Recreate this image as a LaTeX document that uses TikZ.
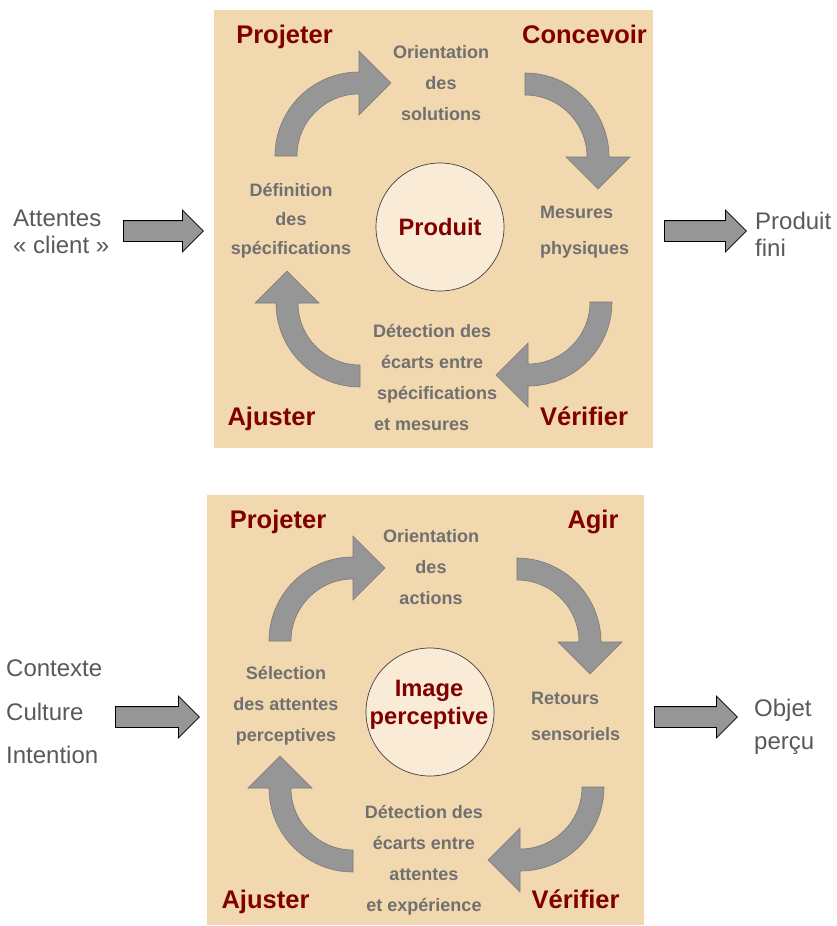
\documentclass[tikz,border=0pt]{standalone}
\usepackage{fontspec}
\setmainfont{Liberation Sans}
\usetikzlibrary{calc,shapes.arrows}
\definecolor{panel}{HTML}{F2D8AE}
\definecolor{disc}{HTML}{FAEBD7}
\definecolor{stagered}{HTML}{800000}
\definecolor{notegray}{HTML}{707070}
\definecolor{outergray}{HTML}{595959}
\definecolor{cycfill}{HTML}{969696}
\definecolor{cycedge}{HTML}{7A7A7A}
\newcommand\cycarrow[3]{%
  \draw[cycshape] ($(#1,#2)+(#3:84)$) arc[start angle=#3, end angle=#3+90, radius=84]
   -- ($(#1,#2)+(#3+90:105)$) -- ($(#1,#2)+(#3+90:73)+(#3+180:32)$)
   -- ($(#1,#2)+(#3+90:41)$) -- ($(#1,#2)+(#3+90:62)$)
   arc[start angle=#3+90, end angle=#3, radius=62] -- cycle;}
\begin{document}
\begin{tikzpicture}[x=1pt,y=-1pt,
  cycshape/.style={fill=cycfill, draw=cycedge, line width=0.6pt, line join=miter},
  stagelabel/.style={text=stagered, font=\bfseries\fontsize{25.5}{30}\selectfont, inner sep=0pt, anchor=base},
  notelabel/.style={text=notegray, font=\bfseries\fontsize{18}{31}\selectfont, align=center, inner sep=0pt},
  notelabelwide/.style={notelabel, font=\bfseries\fontsize{18}{36}\selectfont, align=left, anchor=west},
  outerlabel/.style={text=outergray, font=\fontsize{24}{27}\selectfont, align=left, anchor=west, inner sep=0pt},
  hub/.style={circle, fill=disc, draw=black!75, line width=0.7pt, minimum size=128pt, inner sep=0pt,
    text=stagered, font=\bfseries\fontsize{23.7}{28}\selectfont, align=center},
  blockarrow/.style={single arrow, fill=cycfill, draw=black, line width=0.8pt, inner sep=0pt,
    text height=20pt, text depth=0pt, single arrow head extend=10.5pt, single arrow tip angle=90, anchor=tail}
]
\useasboundingbox (0,0) rectangle (836,926);
% ---------- top panel ----------
\fill[panel] (214,10) rectangle (653,448);
\cycarrow{359}{156}{180}
\cycarrow{525}{157}{-90}
\cycarrow{528}{302}{0}
\cycarrow{360}{303}{90}
\node[hub] (prod) at (440,227) {Produit};
\node[stagelabel] (p1) at (284.5,43.5) {Projeter};
\node[stagelabel] (c1) at (584.5,43.5) {Concevoir};
\node[stagelabel] (a1) at (271.5,425) {Ajuster};
\node[stagelabel] (v1) at (584,425) {Vérifier};
\node[notelabel] (o1) at (441,83) {Orientation\\des\\solutions};
\node[notelabel, font=\bfseries\fontsize{18}{29}\selectfont] (d1) at (291,221) {Définition\\des\\spécifications};
\node[notelabelwide] (m1) at (540,232) {Mesures\\physiques};
\node[notelabel, align=left, anchor=west] (e1) at (373,377) {Détection des\\\hspace*{8pt}écarts entre\\\hspace*{4pt}spécifications\\\hspace*{1pt}et mesures};
\node[outerlabel] (in1) at (13,232) {Attentes\\« client »};
\node[outerlabel] (out1) at (755,234) {Produit\\fini};
\node[blockarrow, minimum height=80pt] (ia1) at (123,231) {};
\node[blockarrow, minimum height=82pt] (oa1) at (664,231) {};
% ---------- bottom panel ----------
\fill[panel] (207,495) rectangle (644,925);
\cycarrow{353}{641}{180}
\cycarrow{517}{642}{-90}
\cycarrow{520}{787}{0}
\cycarrow{353}{788}{90}
\node[hub] (img) at (430,712) {};
\node[text=stagered, font=\bfseries\fontsize{23.7}{28}\selectfont, align=center, inner sep=0pt] (imgtext) at (429,704.5) {Image\\perceptive};
\node[stagelabel] (p2) at (278,528) {Projeter};
\node[stagelabel] (g2) at (593,528) {Agir};
\node[stagelabel] (a2) at (265.5,908) {Ajuster};
\node[stagelabel] (v2) at (575.5,908) {Vérifier};
\node[notelabel] (o2) at (431,567) {Orientation\\des\\actions};
\node[notelabel] (s2) at (286,706) {Sélection\\des attentes\\perceptives};
\node[notelabelwide] (r2) at (531,716) {Retours\\sensoriels};
\node[notelabel] (e2) at (424,860) {Détection des\\écarts entre\\attentes\\et expérience};
\node[outerlabel, font=\fontsize{24}{43.5}\selectfont] (in2) at (6,712) {Contexte\\Culture\\Intention};
\node[outerlabel, font=\fontsize{24}{33}\selectfont] (out2) at (754,726.5) {Objet\\perçu};
\node[blockarrow, minimum height=84pt] (ia2) at (115,717) {};
\node[blockarrow, minimum height=83pt] (oa2) at (654,717) {};
\end{tikzpicture}
\end{document}
